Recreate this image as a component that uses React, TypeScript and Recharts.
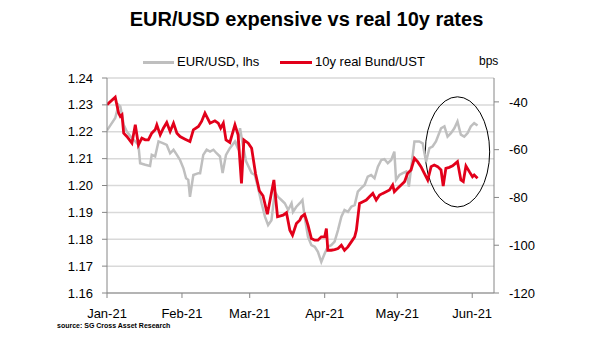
import { CartesianGrid, Line, LineChart, ReferenceArea, XAxis, YAxis } from "recharts";

// days since 1 Jan 2021
const eurusdDays = [
  0, 3.4, 4.8, 5.5, 6.2, 6.9, 8.2, 10.3, 11.7, 13.0, 13.7, 15.8, 17.8, 18.5, 19.9, 21.3, 23.3, 24.7, 26.1,
  27.5, 28.9, 30.2, 31.6, 32.7, 33.6, 34.3, 35.7, 37.8, 38.5, 39.8, 41.2, 42.6, 44.0, 45.3, 46.7, 47.8, 49.2,
  50.8, 52.9, 53.8, 55.0, 56.2, 57.5, 59.8, 61.1, 62.5, 63.9, 65.3, 66.6, 68.0, 69.4, 70.7, 72.1, 73.5, 74.9,
  76.3, 76.9, 78.3, 79.7, 80.8, 81.7, 83.1, 84.5, 85.9, 87.2, 88.6, 90.0, 91.3, 92.7, 94.1, 95.5, 96.9, 98.2,
  99.6, 101.0, 102.4, 103.7, 105.1, 106.5, 107.8, 109.2, 110.6, 112.0, 113.4, 114.7, 116.1, 117.5, 118.8,
  119.5, 120.9, 122.3, 123.7, 124.8, 127.1, 129.1, 130.5, 131.9, 133.3, 134.6, 136.0, 138.1, 139.5, 140.8,
  142.2, 143.6, 144.9, 146.3, 147.7, 149.1, 150.4, 151.8, 153.2,
];
const eurusdValues = [
  1.2205, 1.2251, 1.23, 1.2294, 1.2263, 1.2226, 1.2201, 1.2176, 1.2164, 1.2151, 1.2083, 1.2077, 1.2073, 1.2114,
  1.2108, 1.2164, 1.2157, 1.2151, 1.212, 1.2133, 1.2114, 1.2095, 1.2064, 1.2027, 1.2021, 1.1958, 1.2039, 1.2046,
  1.2046, 1.2114, 1.2133, 1.2126, 1.2133, 1.212, 1.2108, 1.2046, 1.2114, 1.2139, 1.2164, 1.2145, 1.2213, 1.215,
  1.209, 1.2046, 1.2039, 1.199, 1.1934, 1.1884, 1.1853, 1.1871, 1.1977, 1.1958, 1.1946, 1.1934, 1.1909, 1.1934,
  1.1902, 1.1921, 1.1934, 1.1946, 1.1884, 1.1809, 1.1778, 1.1772, 1.1753, 1.1716, 1.1747, 1.1772, 1.1778,
  1.1791, 1.1834, 1.1884, 1.1909, 1.1902, 1.1921, 1.1927, 1.1977, 1.199, 1.2002, 1.2033, 1.2039, 1.2027, 1.207,
  1.2095, 1.2098, 1.2083, 1.2095, 1.2126, 1.2021, 1.2039, 1.2046, 1.2052, 1.1996, 1.2164, 1.2164, 1.2157,
  1.2089, 1.2139, 1.2145, 1.2164, 1.2213, 1.222, 1.2182, 1.2195, 1.2213, 1.2238, 1.2189, 1.2182, 1.2195, 1.222,
  1.2232, 1.2223,
];

const realDays = [
  0, 3.4, 4.8, 5.5, 6.2, 6.9, 8.2, 10.3, 11.7, 13.0, 14.4, 15.8, 17.1, 18.5, 19.9, 20.6, 22.0, 23.3, 24.7, 26.1,
  27.5, 28.9, 30.2, 32.3, 34.3, 35.7, 37.8, 39.1, 40.5, 42.6, 44.6, 46.0, 47.0, 48.1, 49.2, 50.8, 52.9, 54.2,
  55.6, 56.6, 58.4, 59.8, 61.4, 63.0, 64.5, 66.3, 69.0, 70.5, 72.8, 74.2, 75.6, 76.7, 78.3, 79.7, 80.4, 81.7,
  83.1, 84.5, 85.9, 87.2, 88.6, 90.0, 90.7, 91.3, 92.7, 94.1, 95.5, 96.9, 98.2, 99.6, 101.0, 102.4, 103.1,
  104.4, 105.8, 107.2, 108.5, 109.9, 111.3, 112.7, 114.0, 115.4, 116.8, 118.1, 118.8, 120.2, 121.6, 123.0,
  124.3, 125.7, 127.1, 128.4, 129.8, 131.2, 132.6, 134.0, 135.3, 136.7, 138.1, 139.0, 140.1, 141.5, 142.9,
  144.9, 146.3, 147.3, 148.4, 149.8, 151.1, 151.8, 153.2,
];
const realValues = [
  -41.2, -38.0, -44.7, -46.1, -45.4, -53.1, -54.5, -57.3, -49.6, -58.0, -55.2, -55.9, -55.9, -53.1, -51.7, -49.6,
  -53.8, -51.0, -48.6, -52.4, -48.9, -53.1, -54.5, -55.6, -56.6, -51.7, -50.3, -48.2, -44.7, -48.9, -47.9, -48.9,
  -51.0, -48.9, -55.9, -57.0, -49.6, -53.8, -74.1, -55.9, -57.3, -59.4, -70.0, -77.2, -79.3, -87.0, -72.7, -88.1,
  -87.4, -86.4, -93.7, -95.8, -90.9, -89.5, -88.1, -87.1, -91.6, -97.2, -97.9, -97.9, -96.5, -96.5, -93.0,
  -102.1, -102.1, -101.8, -101.4, -100.0, -102.1, -100.7, -98.6, -96.5, -93.7, -82.5, -81.8, -81.1, -79.7,
  -78.3, -81.1, -79.0, -78.3, -77.6, -76.9, -74.8, -77.6, -76.2, -74.8, -73.4, -69.9, -68.5, -63.6, -65.0,
  -67.1, -69.9, -72.7, -67.1, -66.4, -67.1, -68.5, -75.2, -67.8, -67.4, -66.8, -65.0, -72.7, -73.4, -66.8,
  -69.2, -71.3, -70.6, -72.0,
];

const monthTicks = [0, 31, 59, 90, 120, 151];
const monthLabels = ["Jan-21", "Feb-21", "Mar-21", "Apr-21", "May-21", "Jun-21"];
const leftTicks = [1.16, 1.17, 1.18, 1.19, 1.2, 1.21, 1.22, 1.23, 1.24];
const rightTicks = [-120, -100, -80, -60, -40];

// circled recent divergence (days, EUR/USD)
const highlight = { x1: 131.6, x2: 158.2, y1: 1.192, y2: 1.233 };

const eurusdData = eurusdDays.map((t, i) => ({ t, v: eurusdValues[i] }));
const realData = realDays.map((t, i) => ({ t, v: realValues[i] }));

const FONT = "'Liberation Sans', Arial, sans-serif";
const AXIS = "#868686";
const GREY = "#bfbfbf";
const RED = "#e2001a";
const tick = { fill: "#000", fontSize: 13, fontFamily: FONT };

const Ellipse = (p: any) => (
  <ellipse
    cx={p.x + p.width / 2}
    cy={p.y + p.height / 2}
    rx={p.width / 2}
    ry={p.height / 2}
    fill="none"
    stroke="#000"
    strokeWidth={1}
  />
);

export default function App() {
  return (
    <div style={{ position: "relative", width: 605, height: 341, background: "#fff", fontFamily: FONT }}>
      <style>{"body{margin:0}"}</style>
      <div
        style={{
          position: "absolute",
          top: 7,
          left: 4,
          width: 605,
          textAlign: "center",
          fontSize: 20,
          fontWeight: "bold",
          lineHeight: "24px",
        }}
      >
        EUR/USD expensive vs real 10y rates
      </div>
      <div style={{ position: "absolute", top: 54, left: 0, width: 605, height: 16, fontSize: 13, lineHeight: "16px" }}>
        <span style={{ position: "absolute", left: 143, top: 7, width: 31, height: 3, background: GREY }} />
        <span style={{ position: "absolute", left: 177, top: 0 }}>EUR/USD, lhs</span>
        <span style={{ position: "absolute", left: 280, top: 7, width: 32, height: 3, background: RED }} />
        <span style={{ position: "absolute", left: 315, top: 0 }}>10y real Bund/UST</span>
        <span style={{ position: "absolute", left: 479, top: -1, fontSize: 12 }}>bps</span>
      </div>
      <LineChart width={605} height={341} margin={{ top: 78, right: 0, bottom: 0, left: 0 }}>
        <CartesianGrid yAxisId="left" vertical={false} stroke="#d9d9d9" strokeWidth={1.5} />
        <XAxis
          type="number"
          dataKey="t"
          domain={[0, 160]}
          ticks={monthTicks}
          interval={0}
          tickFormatter={(v) => monthLabels[monthTicks.indexOf(v)] ?? ""}
          tick={tick}
          height={48}
          tickSize={5}
          tickMargin={11}
          stroke={AXIS}
          allowDataOverflow
        />
        <YAxis
          yAxisId="left"
          domain={[1.16, 1.24]}
          ticks={leftTicks}
          interval={0}
          tickFormatter={(v) => v.toFixed(2)}
          tick={tick}
          width={107}
          tickSize={5}
          tickMargin={9}
          stroke={AXIS}
        />
        <YAxis
          yAxisId="right"
          orientation="right"
          domain={[-120, -30]}
          ticks={rightTicks}
          interval={0}
          tick={tick}
          width={111}
          tickSize={5}
          tickMargin={10}
          stroke={AXIS}
        />
        <Line
          yAxisId="left"
          data={eurusdData}
          dataKey="v"
          type="linear"
          stroke={GREY}
          strokeWidth={2.5}
          dot={false}
          isAnimationActive={false}
        />
        <Line
          yAxisId="right"
          data={realData}
          dataKey="v"
          type="linear"
          stroke={RED}
          strokeWidth={2.8}
          dot={false}
          isAnimationActive={false}
        />
        <ReferenceArea yAxisId="left" {...highlight} shape={Ellipse} />
      </LineChart>
      <div
        style={{
          position: "absolute",
          left: 57,
          top: 321,
          fontSize: 7,
          fontWeight: "bold",
          lineHeight: "9px",
        }}
      >
        source: SG Cross Asset Research
      </div>
    </div>
  );
}
